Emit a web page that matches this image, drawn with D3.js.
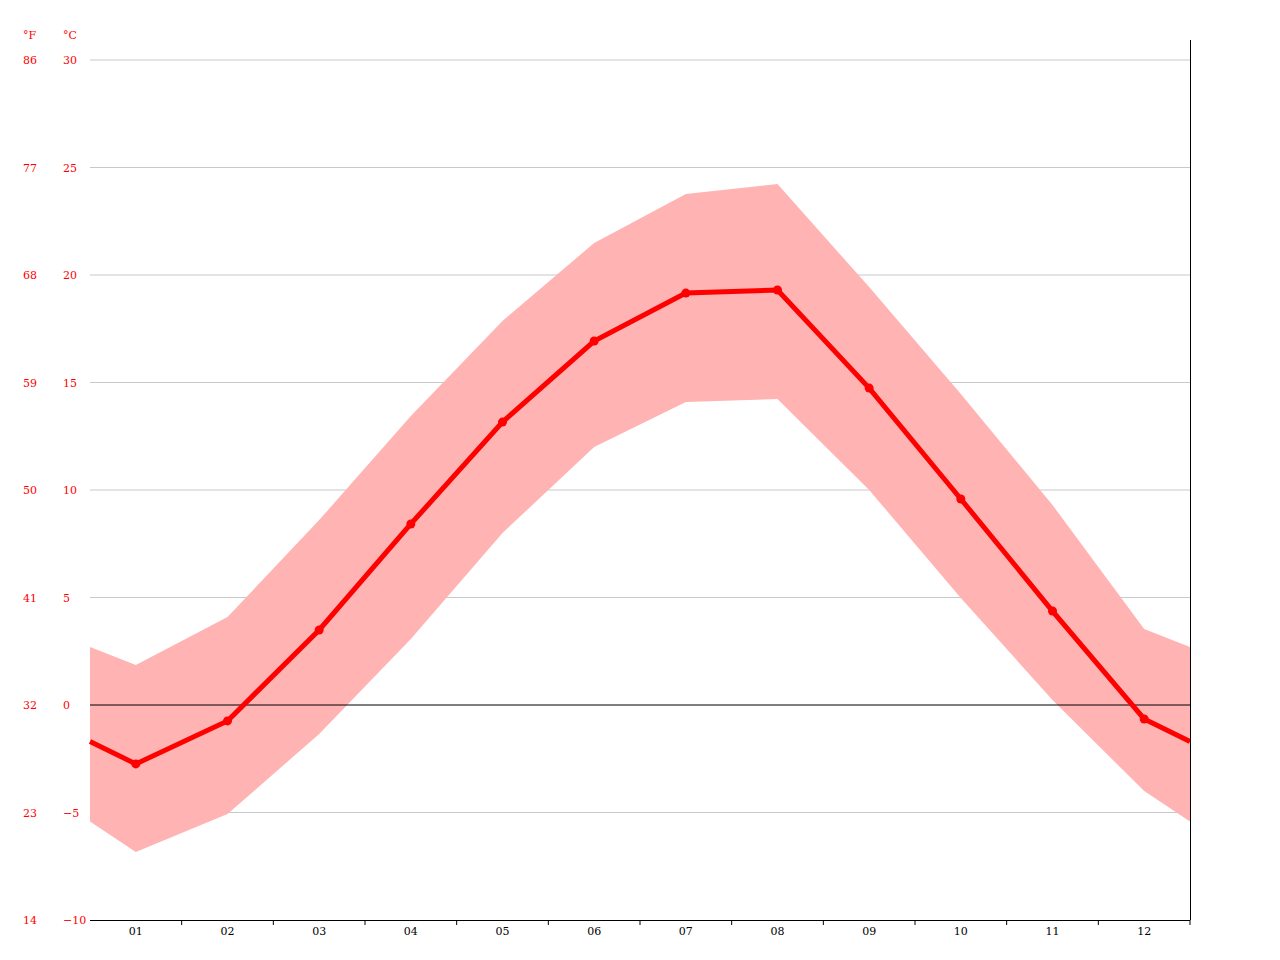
<!DOCTYPE html>
<html><head><meta charset="utf-8">
<script src="https://cdn.jsdelivr.net/npm/d3@7"></script>
<style>body{margin:0;background:#fff}text{font-family:"DejaVu Serif",serif;font-size:11px}</style>
</head><body>
<svg id="chart" width="1280" height="960"></svg>
<script>
const months = ['01','02','03','04','05','06','07','08','09','10','11','12'];
const tMean = [-2.74,-0.74,3.49,8.42,13.16,16.93,19.16,19.30,14.74,9.58,4.37,-0.65];
const tMax = [1.86,4.09,8.6,13.44,17.86,21.49,23.77,24.23,19.44,14.47,9.3,3.53];
const tMin = [-6.84,-5.07,-1.35,3.07,8.0,12.0,14.09,14.23,10.0,4.98,0.23,-4.0];
const cTicks = [-10,-5,0,5,10,15,20,25,30];

const svg = d3.select('#chart');
const left = 90, right = 1190;
const x = d3.scaleLinear().domain([0, 12]).range([left, right]);
const y = d3.scaleLinear().domain([-10, 30]).range([920, 60]);

// wrap the year round so the curves reach both edges
const edge = arr => (arr[0] + arr[11]) / 2;
const pts = arr => [[0, edge(arr)], ...arr.map((v, i) => [i + 0.5, v]), [12, edge(arr)]];

// grid
svg.selectAll('.grid').data(cTicks.filter(d => d !== 0 && d !== -10)).enter().append('line')
    .attr('x1', left).attr('x2', right).attr('y1', d => y(d)).attr('y2', d => y(d))
    .attr('stroke', '#c8c8c8').attr('stroke-width', 1);

// band
const area = d3.area().x(d => x(d[0])).y0(d => y(d[1])).y1(d => y(d[2]));
const band = pts(tMin).map((p, i) => [p[0], p[1], pts(tMax)[i][1]]);
svg.append('path').datum(band).attr('d', area).attr('fill', '#ffb3b3');

// zero line
svg.append('line').attr('x1', left).attr('x2', right).attr('y1', y(0)).attr('y2', y(0))
    .attr('stroke', '#000').attr('stroke-width', 1);

// mean line
const line = d3.line().x(d => x(d[0])).y(d => y(d[1]));
svg.append('path').datum(pts(tMean)).attr('d', line)
    .attr('fill', 'none').attr('stroke', '#ff0000').attr('stroke-width', 5);
svg.selectAll('.dot').data(tMean).enter().append('circle')
    .attr('cx', (d, i) => x(i + 0.5)).attr('cy', d => y(d)).attr('r', 4.5).attr('fill', '#ff0000');

// axes
svg.append('line').attr('x1', right + 0.5).attr('x2', right + 0.5).attr('y1', 40).attr('y2', 920).attr('stroke', '#000');
svg.append('line').attr('x1', left).attr('x2', right).attr('y1', 920.5).attr('y2', 920.5).attr('stroke', '#000');
svg.selectAll('.tick').data(d3.range(1, 13)).enter().append('line')
    .attr('x1', d => x(d)).attr('x2', d => x(d)).attr('y1', 920).attr('y2', 925).attr('stroke', '#000');
svg.selectAll('.mlab').data(months).enter().append('text')
    .attr('x', (d, i) => x(i + 0.5)).attr('y', 935).attr('text-anchor', 'middle').attr('fill', '#000').text(d => d);

// y labels
svg.selectAll('.clab').data(cTicks).enter().append('text')
    .attr('x', 63).attr('y', d => y(d) + 4).attr('fill', '#ff0000').text(d => d < 0 ? '\u2212' + (-d) : d);
svg.selectAll('.flab').data(cTicks).enter().append('text')
    .attr('x', 23).attr('y', d => y(d) + 4).attr('fill', '#ff0000').text(d => Math.round(d * 9 / 5 + 32));
svg.append('text').attr('x', 23).attr('y', 39).attr('fill', '#ff0000').text('°F');
svg.append('text').attr('x', 63).attr('y', 39).attr('fill', '#ff0000').text('°C');
</script>
</body></html>
